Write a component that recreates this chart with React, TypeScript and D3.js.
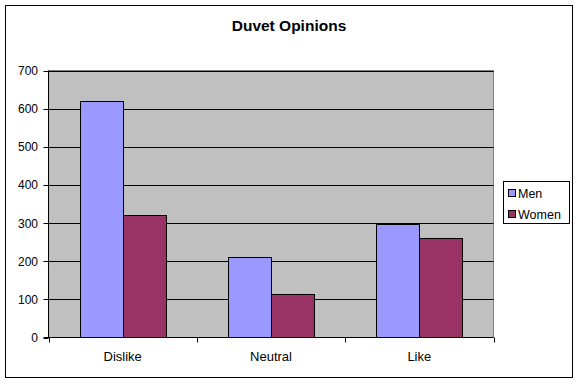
import React from "react";
import * as d3 from "d3";

const categories = ["Dislike", "Neutral", "Like"];
const seriesNames = ["Men", "Women"];
const menValues = [619, 210, 297];
const womenValues = [322, 115, 260];
const yTicks = [0, 100, 200, 300, 400, 500, 600, 700];
const colors = ["#9999FF", "#993366"];

export default function App() {
  const W = 578, H = 383;
  const left = 48.5, right = 493.5, top = 70.5, bottom = 337.5;
  const x = d3.scaleBand<string>().domain(categories).range([left, right]).paddingInner(0).paddingOuter(0);
  const inner = d3.scaleBand<string>().domain(seriesNames).range([0, x.bandwidth()]).paddingInner(0).paddingOuter(0.72 / 2 * 1);
  const y = d3.scaleLinear().domain([0, 700]).range([bottom, top]);
  const series = [menValues, womenValues];
  const font = "Arial, 'Liberation Sans', sans-serif";
  const bw = 43;
  const gap = (x.bandwidth() - 2 * bw) / 2;

  return (
    <svg width={W} height={H} style={{ position: "fixed", left: 0, top: 0, background: "#fff" }} fontFamily={font}>
      <rect x={5.5} y={5.5} width={567} height={372} fill="#fff" stroke="#000" strokeWidth={1} />
      <text x={289} y={31} textAnchor="middle" fontSize={15.5} fontWeight="bold">Duvet Opinions</text>
      <rect x={left} y={top} width={right - left} height={bottom - top} fill="#C0C0C0" stroke="#808080" />
      {yTicks.filter(t => t > 0).map(t => (
        <line key={"g" + t} x1={left} x2={right} y1={Math.round(y(t)) + 0.5} y2={Math.round(y(t)) + 0.5} stroke="#000" />
      ))}
      {categories.map((c, i) =>
        series.map((vals, s) => {
          const bx = (x(c) as number) + gap + s * bw;
          const yt = y(vals[i]);
          return (
            <rect key={c + s} x={Math.round(bx) + 0.5} y={Math.round(yt) + 0.5} width={bw} height={bottom - Math.round(yt) - 0.5}
              fill={colors[s]} stroke="#000" strokeWidth={1} />
          );
        })
      )}
      <line x1={left} x2={left} y1={top} y2={bottom} stroke="#000" />
      <line x1={left - 5} x2={right} y1={bottom} y2={bottom} stroke="#000" />
      {yTicks.map(t => (
        <g key={"t" + t}>
          <line x1={left - 5} x2={left} y1={Math.round(y(t)) + 0.5} y2={Math.round(y(t)) + 0.5} stroke="#000" />
          <text x={38} y={y(t) + 4.5} textAnchor="end" fontSize={12}>{t}</text>
        </g>
      ))}
      {[...categories.map(c => x(c) as number), right].map((px, i) => (
        <line key={"xt" + i} x1={Math.round(px) + 0.5} x2={Math.round(px) + 0.5} y1={bottom} y2={bottom + 5} stroke="#000" />
      ))}
      {categories.map(c => (
        <text key={"c" + c} x={(x(c) as number) + x.bandwidth() / 2} y={361} textAnchor="middle" fontSize={13}>{c}</text>
      ))}
      <rect x={503.5} y={181.5} width={66} height={42} fill="#fff" stroke="#000" />
      {seriesNames.map((n, i) => (
        <g key={"l" + n}>
          <rect x={508.5} y={189.5 + i * 21} width={7} height={7} fill={colors[i]} stroke="#000" />
          <text x={518} y={197.5 + i * 21} fontSize={12.5}>{n}</text>
        </g>
      ))}
    </svg>
  );
}
